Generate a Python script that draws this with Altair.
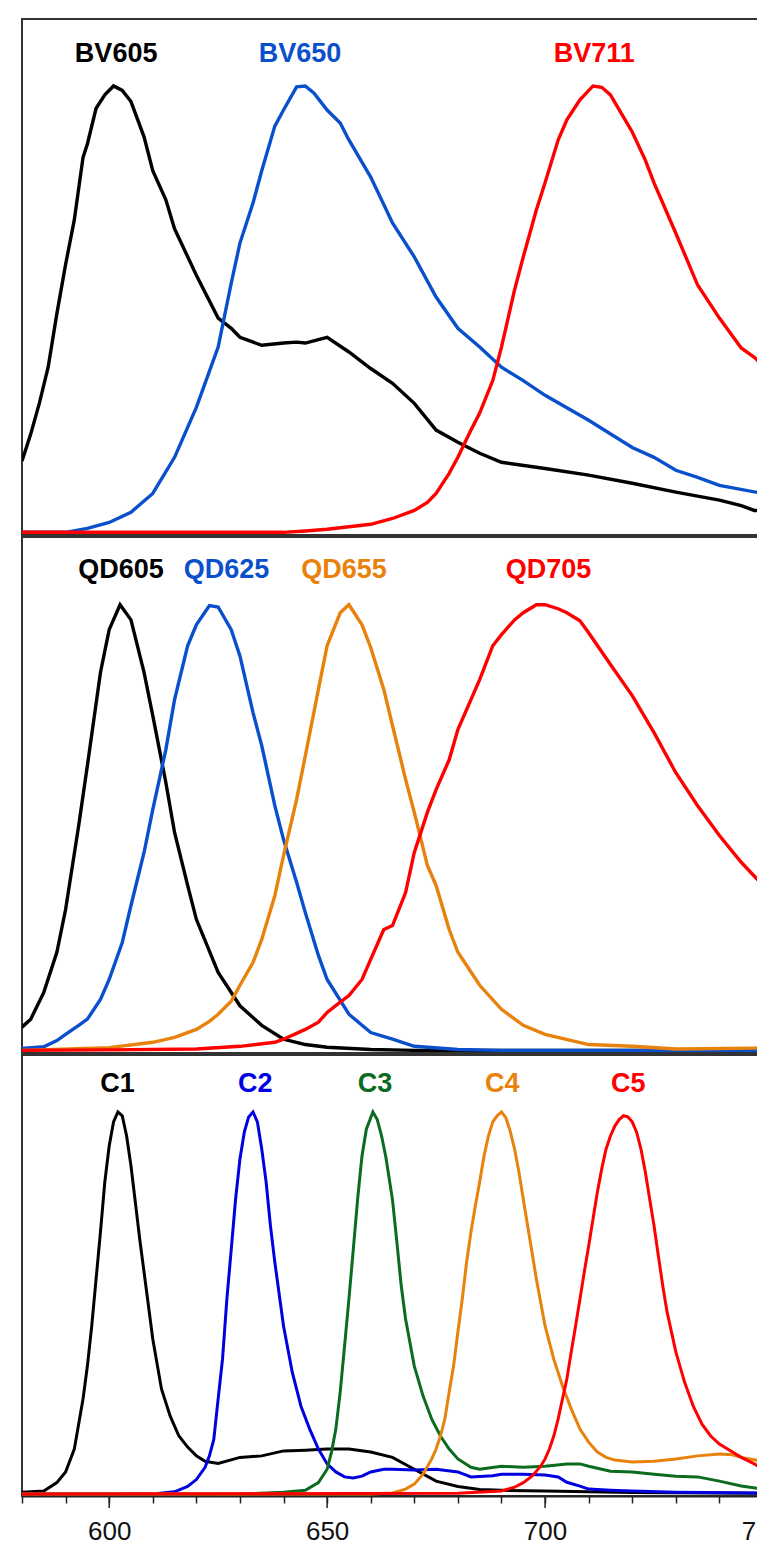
import altair as alt
import pandas as pd

# ---------------- top panel (Brilliant Violet dyes) ----------------
BV605_WL = [580, 582, 584, 586, 588, 590, 592, 594, 595, 597, 599, 601, 603, 605, 608, 610, 613, 615, 620, 625, 628,
            630, 635, 640, 643, 645, 650, 655, 660, 665, 670, 675, 680, 685, 690, 700, 710, 720, 730, 740, 745, 748, 750]
BV605_I = [0.16, 0.22, 0.29, 0.37, 0.49, 0.60, 0.70, 0.84, 0.87, 0.95, 0.98, 1.0, 0.99, 0.965, 0.886, 0.81, 0.745,
           0.68, 0.576, 0.48, 0.457, 0.437, 0.419, 0.424, 0.426, 0.424, 0.437, 0.404, 0.367, 0.334, 0.289, 0.229,
           0.202, 0.177, 0.157, 0.143, 0.128, 0.11, 0.09, 0.072, 0.06, 0.049, 0.049]

BV650_WL = [580, 590, 595, 600, 605, 610, 615, 620, 625, 628, 630, 633, 635, 638, 640, 643, 645, 647, 650, 653, 655,
            660, 665, 670, 675, 680, 685, 690, 695, 700, 710, 720, 725, 730, 735, 740, 750]
BV650_I = [0.0, 0.0, 0.009, 0.022, 0.045, 0.087, 0.168, 0.28, 0.415, 0.558, 0.648, 0.738, 0.81, 0.91, 0.946, 0.998,
           1.0, 0.984, 0.946, 0.917, 0.879, 0.796, 0.693, 0.617, 0.527, 0.457, 0.415, 0.37, 0.34, 0.307, 0.251, 0.19,
           0.168, 0.139, 0.123, 0.105, 0.087]

BV711_WL = [580, 640, 645, 650, 660, 665, 670, 673, 675, 678, 680, 683, 685, 688, 690, 693, 695, 698, 700, 703, 705,
            708, 711, 713, 715, 718, 720, 723, 725, 730, 735, 740, 745, 748, 750]
BV711_I = [0.0, 0.0, 0.003, 0.007, 0.018, 0.031, 0.049, 0.067, 0.087, 0.132, 0.168, 0.229, 0.267, 0.34, 0.415, 0.543,
           0.617, 0.722, 0.783, 0.879, 0.924, 0.969, 1.0, 0.997, 0.98, 0.93, 0.897, 0.834, 0.783, 0.67, 0.554, 0.48,
           0.413, 0.392, 0.374]

# ---------------- middle panel (Quantum dots) ----------------
QD605_WL = [580, 582, 585, 588, 590, 593, 595, 598, 600, 602.5, 605, 608, 610, 613, 615, 618, 620, 625, 630, 635, 640,
            645, 650, 660, 670, 750]
QD605_I = [0.052, 0.07, 0.13, 0.22, 0.316, 0.504, 0.639, 0.848, 0.944, 1.0, 0.966, 0.848, 0.751, 0.601, 0.489, 0.37,
           0.294, 0.175, 0.1, 0.056, 0.025, 0.013, 0.007, 0.002, 0.0, 0.0]

QD625_WL = [580, 585, 588, 590, 593, 595, 598, 600, 603, 605, 608, 610, 613, 615, 618, 620, 623, 625, 628, 630, 633,
            635, 638, 640, 643, 645, 648, 650, 655, 660, 665, 670, 680, 690, 750]
QD625_I = [0.004, 0.008, 0.022, 0.036, 0.056, 0.07, 0.114, 0.159, 0.242, 0.325, 0.444, 0.54, 0.675, 0.787, 0.908,
           0.955, 0.998, 0.995, 0.944, 0.885, 0.758, 0.684, 0.549, 0.473, 0.377, 0.309, 0.213, 0.159, 0.081, 0.04,
           0.025, 0.009, 0.002, 0.0, 0.0]

QD655_WL = [580, 600, 610, 615, 620, 623, 625, 628, 630, 633, 635, 638, 640, 643, 645, 648, 650, 653, 655, 658, 660,
            663, 665, 668, 670, 673, 675, 678, 680, 685, 690, 695, 700, 710, 720, 730, 750]
QD655_I = [0.0, 0.006, 0.018, 0.029, 0.047, 0.065, 0.081, 0.11, 0.146, 0.197, 0.249, 0.347, 0.437, 0.563, 0.661, 0.81,
           0.908, 0.982, 1.0, 0.955, 0.904, 0.81, 0.729, 0.608, 0.534, 0.415, 0.37, 0.271, 0.22, 0.146, 0.092, 0.056,
           0.036, 0.013, 0.009, 0.003, 0.005]

QD705_WL = [580, 600, 620, 630, 638, 640, 645, 648, 650, 653, 655, 658, 660, 663, 665, 668, 670, 673, 675, 678, 680,
            683, 685, 688, 690, 693, 695, 698, 700, 703, 705, 708, 710, 715, 720, 725, 730, 735, 740, 745, 750]
QD705_I = [0.0, 0.001, 0.003, 0.009, 0.018, 0.025, 0.047, 0.063, 0.085, 0.108, 0.123, 0.159, 0.204, 0.271, 0.28, 0.354,
           0.444, 0.534, 0.585, 0.652, 0.72, 0.787, 0.832, 0.908, 0.933, 0.966, 0.982, 1.0, 1.0, 0.991, 0.982, 0.964,
           0.937, 0.866, 0.796, 0.713, 0.623, 0.549, 0.482, 0.422, 0.37]

# ---------------- bottom panel (C1..C5) ----------------
C1_WL = [580, 585, 588, 590, 592, 594, 595, 596, 597, 598, 599, 600, 601, 602, 603, 604, 605, 606, 607, 608, 610, 612,
         614, 616, 618, 620, 622, 625, 630, 635, 640, 645, 650, 655, 660, 665, 670, 675, 680, 685, 690, 700, 710, 720,
         750]
C1_I = [0.005, 0.008, 0.03, 0.058, 0.118, 0.249, 0.335, 0.44, 0.563, 0.686, 0.817, 0.911, 0.974, 1.0, 0.99, 0.937,
        0.859, 0.764, 0.668, 0.581, 0.406, 0.275, 0.204, 0.152, 0.123, 0.1, 0.086, 0.08, 0.096, 0.1, 0.113, 0.115,
        0.118, 0.118, 0.11, 0.096, 0.065, 0.034, 0.02, 0.012, 0.01, 0.008, 0.006, 0.004, 0.002]

C2_WL = [580, 610, 615, 618, 620, 622, 623, 624, 625, 626, 627, 628, 629, 630, 631, 632, 633, 634, 635, 636, 637, 638,
         640, 642, 644, 646, 648, 650, 652, 654, 656, 658, 660, 663, 665, 670, 675, 680, 683, 688, 690, 695, 700, 703,
         705, 708, 710, 715, 720, 730, 750]
C2_I = [0.0, 0.0, 0.006, 0.02, 0.038, 0.07, 0.1, 0.143, 0.249, 0.353, 0.51, 0.64, 0.772, 0.877, 0.947, 0.987, 1.0,
        0.974, 0.903, 0.817, 0.702, 0.607, 0.44, 0.319, 0.23, 0.17, 0.118, 0.079, 0.058, 0.045, 0.042, 0.047, 0.058,
        0.065, 0.065, 0.063, 0.065, 0.058, 0.045, 0.048, 0.052, 0.052, 0.05, 0.045, 0.031, 0.021, 0.013, 0.01, 0.008,
        0.005, 0.003]

C3_WL = [580, 630, 640, 645, 648, 650, 651, 652, 653, 654, 655, 656, 657, 658, 659, 660.5, 661.5, 662.5, 663.5, 665,
         666, 667, 668, 670, 672, 674, 676, 678, 680, 683, 685, 690, 695, 700, 705, 708, 710, 715, 720, 725, 730, 735,
         740, 745, 750]
C3_I = [0.0, 0.0, 0.005, 0.01, 0.03, 0.065, 0.11, 0.17, 0.267, 0.387, 0.51, 0.64, 0.772, 0.885, 0.955, 1.0, 0.98,
        0.937, 0.88, 0.77, 0.66, 0.545, 0.458, 0.335, 0.257, 0.196, 0.152, 0.118, 0.092, 0.07, 0.065, 0.073, 0.07,
        0.073, 0.079, 0.079, 0.073, 0.06, 0.058, 0.052, 0.047, 0.045, 0.034, 0.021, 0.013]

C4_WL = [580, 660, 665, 668, 670, 672, 674, 675, 676, 677, 678, 679, 680, 681, 682, 683, 684, 685, 686, 687, 688, 689,
         690, 691, 692, 693, 694, 695, 696, 697, 698, 700, 702, 704, 706, 708, 710, 712, 714, 716, 720, 725, 730, 735,
         740, 743, 745, 748, 750]
C4_I = [0.0, 0.0, 0.003, 0.013, 0.026, 0.052, 0.092, 0.118, 0.152, 0.196, 0.267, 0.335, 0.424, 0.51, 0.607, 0.686,
        0.754, 0.817, 0.885, 0.937, 0.974, 0.99, 1.0, 0.985, 0.95, 0.903, 0.843, 0.772, 0.702, 0.633, 0.563, 0.44,
        0.353, 0.283, 0.223, 0.17, 0.136, 0.11, 0.096, 0.089, 0.084, 0.086, 0.092, 0.1, 0.105, 0.103, 0.096, 0.09,
        0.084]

C5_WL = [580, 680, 690, 693, 695, 697, 699, 700, 701, 702, 703, 704, 705, 706, 707, 708, 709, 710, 711, 712, 713, 714,
         715, 716, 717, 718, 719, 720, 721, 722, 723, 724, 725, 726, 727, 728, 730, 732, 734, 736, 738, 740, 743, 745,
         748, 750]
C5_I = [0.0, 0.002, 0.008, 0.018, 0.03, 0.047, 0.073, 0.092, 0.118, 0.152, 0.196, 0.249, 0.301, 0.372, 0.44, 0.51,
        0.581, 0.649, 0.72, 0.79, 0.851, 0.903, 0.937, 0.963, 0.98, 0.99, 0.987, 0.974, 0.947, 0.903, 0.843, 0.772,
        0.702, 0.623, 0.545, 0.476, 0.372, 0.293, 0.23, 0.183, 0.152, 0.131, 0.11, 0.096, 0.079, 0.065]

# label names and the wavelength each label is centred on
TOP_NAMES = ["BV605", "BV650", "BV711"]
TOP_LABEL_WL = [601.6, 643.8, 711.3]
MID_NAMES = ["QD605", "QD625", "QD655", "QD705"]
MID_LABEL_WL = [602.7, 626.9, 653.9, 700.8]
BOT_NAMES = ["C1", "C2", "C3", "C4", "C5"]
BOT_LABEL_WL = [601.9, 633.5, 661.0, 690.2, 719.1]

MINOR_TICKS = list(range(580, 751, 10))
MAJOR_TICKS = [600, 650, 700, 750]

BLACK = "#000000"
BLUE = "#0a50cc"
DEEPBLUE = "#0000e0"
GREEN = "#0b6b1e"
ORANGE = "#e8820c"
RED = "#ff0000"
AXIS_COLOR = "#222222"

FONT = "Liberation Sans"
W = 741


def long_table(series):
    rows = []
    for name, wl, inten in series:
        for w, i in zip(wl, inten):
            rows.append({"series": name, "wl": w, "I": i})
    return pd.DataFrame(rows)


def bottom_axis():
    return alt.Axis(
        values=MINOR_TICKS,
        labelExpr="datum.value % 50 === 0 ? datum.label : ''",
        tickSize=7,
        tickWidth=1.5,
        tickColor=AXIS_COLOR,
        domainColor=AXIS_COLOR,
        domainWidth=2,
        labelFont=FONT,
        labelFontSize=26,
        labelColor="#111111",
        labelPadding=15,
        labelFlush=False,
        labelOverlap=False,
        grid=False,
        title="Wavelength (nm)",
        titleFont=FONT,
        titleFontSize=26,
        titleFontWeight="normal",
        titleColor="#111111",
        titlePadding=0,
    )


def panel(series, names, label_wl, colors, height, ydom, label_px, bottom=False, sw=3.4):
    df = long_table(series)
    labels = pd.DataFrame({"series": names, "wl": label_wl})
    cscale = alt.Scale(domain=names, range=colors)
    xscale = alt.Scale(domain=[580, 750], nice=False, zero=False)
    xaxis = bottom_axis() if bottom else None
    y = alt.Y("I:Q", scale=alt.Scale(domain=ydom, nice=False, zero=False), axis=None)
    lines = alt.Chart(df).mark_line(strokeWidth=sw, clip=True, interpolate="linear").encode(
        x=alt.X("wl:Q", scale=xscale, axis=xaxis),
        y=y,
        color=alt.Color("series:N", scale=cscale, legend=None),
        detail="series:N",
    )
    text = alt.Chart(labels).mark_text(
        font=FONT, fontSize=27, fontWeight="bold", baseline="middle", align="center"
    ).encode(
        x=alt.X("wl:Q", scale=xscale, axis=xaxis),
        y=alt.value(label_px),
        text=alt.Text("series:N"),
        color=alt.Color("series:N", scale=cscale, legend=None),
    )
    layers = [lines, text]
    if bottom:
        # longer ticks at the labelled wavelengths
        major = alt.Chart(pd.DataFrame({"wl": MAJOR_TICKS})).mark_rule(
            color=AXIS_COLOR, strokeWidth=1.5, clip=False
        ).encode(
            x=alt.X("wl:Q", scale=xscale, axis=xaxis),
            y=alt.value(height),
            y2=alt.value(height + 12),
        )
        layers.append(major)
    return alt.layer(*layers).properties(width=W, height=height)


top = panel(
    [("BV605", BV605_WL, BV605_I), ("BV650", BV650_WL, BV650_I), ("BV711", BV711_WL, BV711_I)],
    TOP_NAMES, TOP_LABEL_WL, [BLACK, BLUE, RED], 516, [-0.006, 1.15], 35,
)
mid = panel(
    [("QD605", QD605_WL, QD605_I), ("QD625", QD625_WL, QD625_I), ("QD655", QD655_WL, QD655_I),
     ("QD705", QD705_WL, QD705_I)],
    MID_NAMES, MID_LABEL_WL, [BLACK, BLUE, ORANGE, RED], 516, [-0.006, 1.152], 33,
)
bot = panel(
    [("C1", C1_WL, C1_I), ("C2", C2_WL, C2_I), ("C3", C3_WL, C3_I), ("C4", C4_WL, C4_I), ("C5", C5_WL, C5_I)],
    BOT_NAMES, BOT_LABEL_WL, [BLACK, DEEPBLUE, GREEN, ORANGE, RED], 441, [-0.005, 1.149], 29,
    bottom=True, sw=3.0,
)

chart = alt.vconcat(top, mid, bot, spacing=0).resolve_scale(color="independent", y="independent").properties(
    padding={"left": 12, "top": 10, "right": -29, "bottom": -27},
    background="white",
).configure_view(stroke="#333333", strokeWidth=2)

chart.save("out.html", embed_options={"renderer": "svg", "actions": False})
